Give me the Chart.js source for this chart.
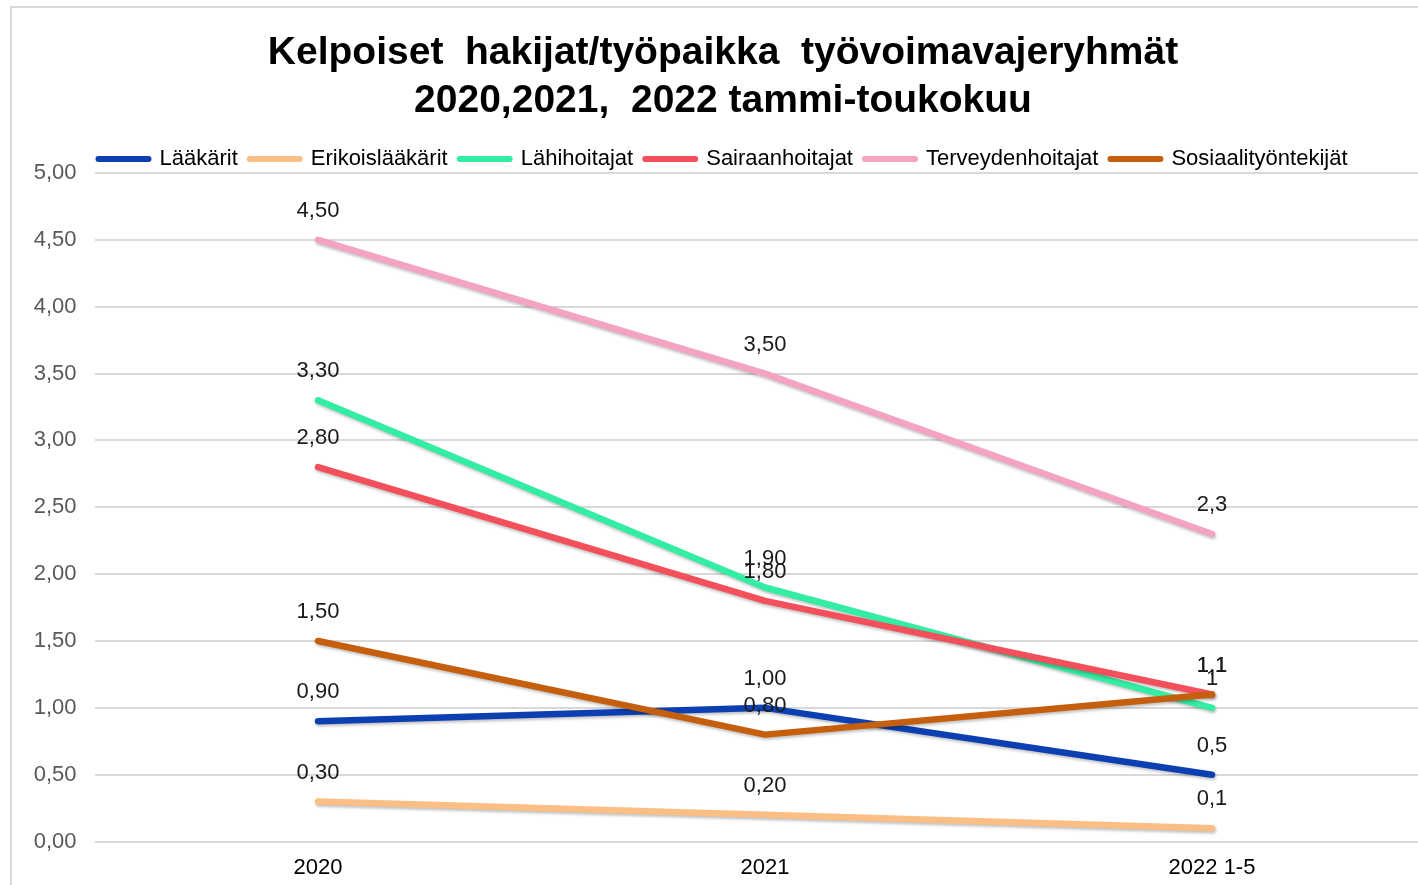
<!DOCTYPE html>
<html>
<head>
<meta charset="utf-8">
<script src="https://cdn.jsdelivr.net/npm/chart.js@4.4.1/dist/chart.umd.min.js"></script>
<style>
  html, body { margin: 0; padding: 0; background: #fff; overflow: hidden; }
  #frame { position: absolute; left: 10px; top: 6px; width: 1500px; height: 1000px; border: 2px solid #d9d9d9; box-sizing: border-box; }
  #wrap { position: absolute; left: 0; top: 0; width: 1446px; height: 900px; }
</style>
</head>
<body>
<div id="frame"></div>
<div id="wrap"><canvas id="c"></canvas></div>
<script>
const categories = ['2020', '2021', '2022 1-5'];
const seriesNames = ['Lääkärit', 'Erikoislääkärit', 'Lähihoitajat', 'Sairaanhoitajat', 'Terveydenhoitajat', 'Sosiaalityöntekijät'];
const laakarit = [0.9, 1.0, 0.5];
const erikoislaakarit = [0.3, 0.2, 0.1];
const lahihoitajat = [3.3, 1.9, 1.0];
const sairaanhoitajat = [2.8, 1.8, 1.1];
const terveydenhoitajat = [4.5, 3.5, 2.3];
const sosiaalityontekijat = [1.5, 0.8, 1.1];
const labelDecimals = [2, 2, null];
const yTicks = [0, 0.5, 1, 1.5, 2, 2.5, 3, 3.5, 4, 4.5, 5];
const colors = ['#0B3FB2', '#FBBF85', '#33EDA4', '#F4505B', '#F4A3C3', '#C55F0E'];

const seriesValues = [laakarit, erikoislaakarit, lahihoitajat, sairaanhoitajat, terveydenhoitajat, sosiaalityontekijat];
const FONT = '"Liberation Sans", Arial, sans-serif';

const fmt = (v, d) => (d == null ? String(v) : v.toFixed(d)).replace('.', ',');

const datasets = seriesNames.map((name, i) => ({
  label: name,
  data: seriesValues[i],
  borderColor: colors[i],
  backgroundColor: colors[i],
  borderWidth: 6.5,
  borderCapStyle: 'round',
  borderJoinStyle: 'round',
  pointRadius: 0,
  pointHoverRadius: 0,
  tension: 0,
  order: seriesNames.length - i
}));

const shadowPlugin = {
  id: 'shadow',
  beforeDatasetDraw(chart) {
    const ctx = chart.ctx;
    ctx.save();
    ctx.shadowColor = 'rgba(0,0,0,0.25)';
    ctx.shadowBlur = 3;
    ctx.shadowOffsetX = 1;
    ctx.shadowOffsetY = 2;
  },
  afterDatasetDraw(chart) {
    chart.ctx.restore();
  }
};

const legendTrim = {
  id: 'legendTrim',
  beforeUpdate(chart) {
    const lg = chart.legend;
    if (lg && !lg._trimmed) {
      const orig = lg.fit;
      lg.fit = function () { orig.call(this); this.height -= 7; };
      lg._trimmed = true;
    }
  }
};

const labelPlugin = {
  id: 'valueLabels',
  afterDatasetsDraw(chart) {
    const ctx = chart.ctx;
    ctx.save();
    ctx.font = '22px ' + FONT;
    ctx.fillStyle = '#1a1a1a';
    ctx.textAlign = 'center';
    ctx.textBaseline = 'middle';
    chart.data.datasets.forEach((ds, di) => {
      const meta = chart.getDatasetMeta(di);
      meta.data.forEach((pt, idx) => {
        ctx.fillText(fmt(ds.data[idx], labelDecimals[idx]), pt.x, pt.y - 29);
      });
    });
    ctx.restore();
  }
};

new Chart(document.getElementById('c'), {
  type: 'line',
  data: { labels: categories, datasets },
  plugins: [legendTrim, shadowPlugin, labelPlugin],
  options: {
    responsive: true,
    maintainAspectRatio: false,
    animation: false,
    events: [],
    layout: { padding: { left: 10.5, right: 10.5, top: 6, bottom: 6 } },
    plugins: {
      tooltip: { enabled: false },
      title: {
        display: true,
        text: ['Kelpoiset  hakijat/työpaikka  työvoimavajeryhmät', '2020,2021,  2022 tammi-toukokuu'],
        color: '#000',
        font: { family: FONT, size: 39, weight: 'bold', lineHeight: 1.23 },
        padding: { top: 23, bottom: 11 }
      },
      legend: {
        position: 'top',
        labels: {
          usePointStyle: true,
          pointStyle: 'line',
          pointStyleWidth: 50,
          boxHeight: 6,
          padding: 12,
          color: '#000',
          font: { family: FONT, size: 22 },
          sort: (a, b) => a.datasetIndex - b.datasetIndex,
          generateLabels(chart) {
            return chart.data.datasets.map((ds, i) => ({
              text: ds.label,
              fillStyle: ds.borderColor,
              strokeStyle: ds.borderColor,
              lineWidth: 6,
              lineCap: 'round',
              pointStyle: 'line',
              datasetIndex: i,
              hidden: false,
              fontColor: '#000'
            }));
          }
        }
      }
    },
    scales: {
      x: {
        offset: true,
        grid: { display: false, drawTicks: false },
        border: { display: false },
        ticks: { color: '#000', font: { family: FONT, size: 22 }, padding: 13 }
      },
      y: {
        min: 0,
        max: 5,
        afterBuildTicks(scale) { scale.ticks = yTicks.map(v => ({ value: v })); },
        afterFit(scale) { scale.width = 84; },
        grid: { color: '#d9d9d9', lineWidth: 2, drawTicks: false },
        border: { display: false },
        ticks: {
          color: '#595959',
          padding: 18,
          font: { family: FONT, size: 22 },
          callback: (v) => fmt(v, 2)
        }
      }
    }
  }
});
</script>
</body>
</html>
